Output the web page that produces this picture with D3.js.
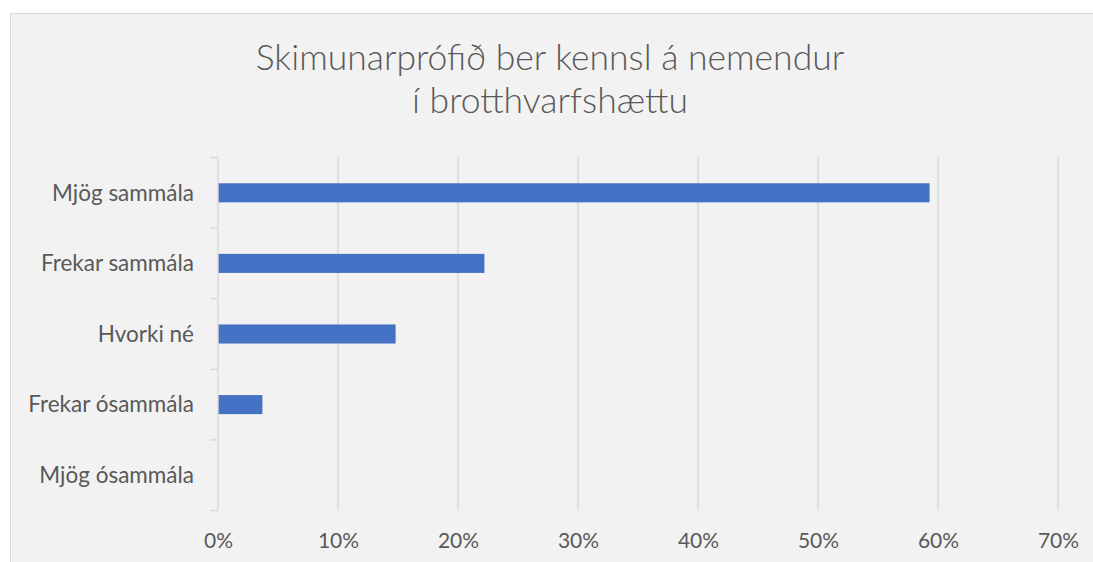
<!DOCTYPE html>
<html>
<head>
<meta charset="utf-8">
<script src="https://cdn.jsdelivr.net/npm/d3@7"></script>
<style>
  body { margin: 0; background: #ffffff; }
  text { font-family: Lato, "Open Sans", sans-serif; fill: #595959; }
</style>
</head>
<body>
<script>
// chart data
var categories = ["Mjög sammála", "Frekar sammála", "Hvorki né", "Frekar ósammála", "Mjög ósammála"];
var values = [0.593, 0.222, 0.148, 0.037, 0];
var xTicks = [0, 0.1, 0.2, 0.3, 0.4, 0.5, 0.6, 0.7];
var titleLines = ["Skimunarprófið ber kennsl á nemendur", "í brotthvarfshættu"];

var svgWidth = 1093;
var svgHeight = 562;

var margin = { top: 157.5, right: 35, bottom: 51.5, left: 218 };
var width = svgWidth - margin.left - margin.right;
var height = svgHeight - margin.top - margin.bottom;

var svg = d3.select("body")
  .append("svg")
  .attr("width", svgWidth)
  .attr("height", svgHeight);

// chart area background + border
svg.append("rect")
  .attr("x", 10.5)
  .attr("y", 13.5)
  .attr("width", svgWidth)
  .attr("height", svgHeight)
  .attr("fill", "#f2f2f2")
  .attr("stroke", "#d9d9d9")
  .attr("stroke-width", 1);

// title
svg.append("g").selectAll("text")
  .data(titleLines)
  .enter()
  .append("text")
  .attr("x", 550)
  .attr("y", (d, i) => 70 + i * 43)
  .attr("text-anchor", "middle")
  .attr("font-size", "35.5px")
  .attr("font-weight", 300)
  .text(d => d);

var chartGroup = svg.append("g")
  .attr("transform", `translate(${margin.left}, ${margin.top})`);

var xScale = d3.scaleLinear()
  .domain([0, 0.7])
  .range([0, width]);

var yScale = d3.scaleBand()
  .domain(categories)
  .range([0, height])
  .paddingInner(0.73)
  .paddingOuter(0.365);

// vertical gridlines
chartGroup.append("g").selectAll("line")
  .data(xTicks.slice(1))
  .enter()
  .append("line")
  .attr("x1", d => xScale(d))
  .attr("x2", d => xScale(d))
  .attr("y1", 0)
  .attr("y2", height)
  .attr("stroke", "#d9d9d9")
  .attr("stroke-width", 1.5);

// bars
chartGroup.append("g").selectAll("rect")
  .data(values)
  .enter()
  .append("rect")
  .attr("x", 0)
  .attr("y", (d, i) => yScale(categories[i]))
  .attr("width", d => xScale(d))
  .attr("height", yScale.bandwidth())
  .attr("fill", "#4472c4");

// x axis (labels only)
var bottomAxis = d3.axisBottom(xScale)
  .tickValues(xTicks)
  .tickFormat(d3.format(".0%"))
  .tickSize(0)
  .tickPadding(23);

var xAxis = chartGroup.append("g")
  .attr("transform", `translate(0, ${height})`)
  .call(bottomAxis);
xAxis.select(".domain").remove();
xAxis.selectAll("text")
  .attr("font-size", "21px")
  .attr("font-family", "Lato, sans-serif")
  .attr("fill", "#595959");

// y axis with ticks between categories
var step = height / categories.length;
var yAxis = chartGroup.append("g");
yAxis.append("line")
  .attr("x1", 0).attr("x2", 0)
  .attr("y1", 0).attr("y2", height)
  .attr("stroke", "#d9d9d9")
  .attr("stroke-width", 1.5);
yAxis.selectAll(".sep")
  .data(d3.range(categories.length + 1))
  .enter()
  .append("line")
  .attr("class", "sep")
  .attr("x1", -8).attr("x2", 0)
  .attr("y1", d => d * step)
  .attr("y2", d => d * step)
  .attr("stroke", "#d9d9d9")
  .attr("stroke-width", 1.5);

yAxis.selectAll(".cat")
  .data(categories)
  .enter()
  .append("text")
  .attr("class", "cat")
  .attr("x", -24)
  .attr("y", d => yScale(d) + yScale.bandwidth() / 2)
  .attr("dy", "0.35em")
  .attr("text-anchor", "end")
  .attr("font-size", "22.5px")
  .text(d => d);
</script>
</body>
</html>
